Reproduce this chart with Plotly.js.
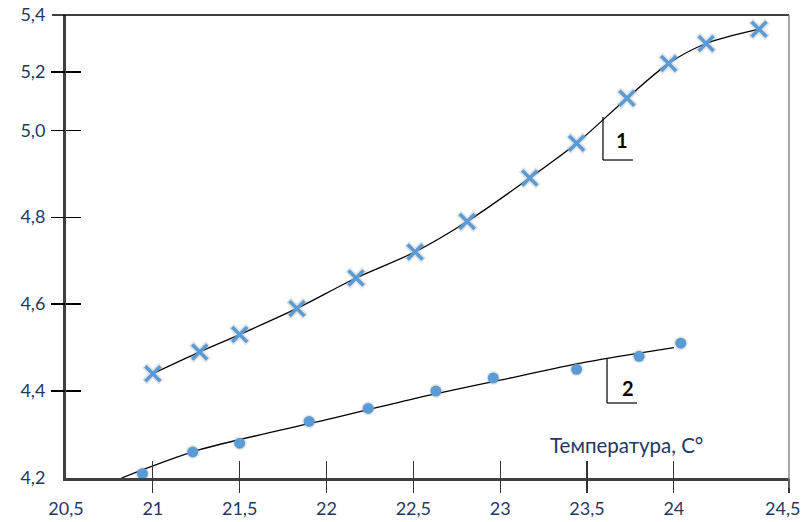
<!DOCTYPE html>
<html>
<head>
<meta charset="utf-8">
<script src="https://cdn.plot.ly/plotly-3.0.1.min.js"></script>
<style>html,body{margin:0;padding:0;background:#fff;}#chart{width:804px;height:522px;}</style>
</head>
<body>
<div id="chart"></div>
<script>
// ---- data ----
const series1X = [21.00, 21.27, 21.50, 21.83, 22.17, 22.51, 22.81, 23.17, 23.44, 23.73, 23.97, 24.14, 24.37];
const series1Y = [4.44, 4.49, 4.53, 4.59, 4.66, 4.72, 4.79, 4.89, 4.97, 5.11, 5.23, 5.30, 5.35];
const series2X = [20.94, 21.23, 21.50, 21.90, 22.24, 22.63, 22.96, 23.44, 23.80, 24.03];
const series2Y = [4.21, 4.26, 4.28, 4.33, 4.36, 4.40, 4.43, 4.45, 4.48, 4.51];
const trend2X = [20.82, 21.27, 22.00, 22.50, 23.00, 23.50, 24.00];
const trend2Y = [4.20, 4.265, 4.334, 4.382, 4.425, 4.467, 4.50];
const xTickLabels = [20.5, 21, 21.5, 22, 22.5, 23, 23.5, 24, 24.5];
const yTickLabels = [4.2, 4.4, 4.6, 4.8, 5.0, 5.2, 5.4];
const xTitle = 'Температура, С°';
const curveLabels = ['1', '2'];

// ---- axis scale of the original (uneven spacing of the last ticks) ----
const xScalePos = [20.5, 21, 21.5, 22, 22.5, 23, 23.5, 24, 24.663];
const yScalePos = [4.2, 4.4, 4.6, 4.8, 5.0, 5.134, 5.265];
function piece(v, from, to) {
  for (let i = 0; i < from.length - 1; i++) {
    if (v <= from[i + 1] || i === from.length - 2) {
      const t = (v - from[i]) / (from[i + 1] - from[i]);
      return to[i] + t * (to[i + 1] - to[i]);
    }
  }
}
const mx = a => a.map(v => piece(v, xTickLabels, xScalePos));
const my = a => a.map(v => piece(v, yTickLabels, yScalePos));
const fmtX = v => (Number.isInteger(v) ? String(v) : v.toFixed(1)).replace('.', ',');
const fmtY = v => v.toFixed(1).replace('.', ',');
const xText = xTickLabels.map(fmtX);
const lastXText = xText[xText.length - 1];
xText[xText.length - 1] = ''; // drawn as an annotation so that it stays inside the page

const blue = '#5b9bd5';
const navy = '#1f3864';
const glow = 'rgba(130,130,130,0.22)';
const traces = [
  {x: mx(series1X), y: my(series1Y), mode: 'lines', line: {color: '#000', width: 1.3, shape: 'spline', smoothing: 0.8}},
  {x: mx(trend2X), y: my(trend2Y), mode: 'lines', line: {color: '#000', width: 1.3, shape: 'spline', smoothing: 0.8}},
  {x: mx(series1X), y: my(series1Y), mode: 'markers', marker: {symbol: 'x-thin-open', size: 17, color: glow, line: {width: 7, color: glow}}},
  {x: mx(series1X), y: my(series1Y), mode: 'markers', marker: {symbol: 'x-thin-open', size: 15, color: blue, line: {width: 3.5, color: blue}}},
  {x: mx(series2X), y: my(series2Y), mode: 'markers', marker: {symbol: 'circle', size: 14, color: 'rgba(140,140,140,0.2)', line: {width: 0}}},
  {x: mx(series2X), y: my(series2Y), mode: 'markers', marker: {symbol: 'circle', size: 11, color: blue, line: {width: 0}}}
];

const xr = [xScalePos[0], xScalePos[xScalePos.length - 1]];
const yr = [yScalePos[0], yScalePos[yScalePos.length - 1]];
const tickFont = {family: 'Lato, "Open Sans", sans-serif', size: 18, color: navy};
const base = {showgrid: false, zeroline: false, tickmode: 'array'};

const layout = {
  width: 804, height: 522,
  margin: {l: 66, r: 15, t: 15, b: 44, pad: 0},
  showlegend: false,
  paper_bgcolor: '#fff', plot_bgcolor: '#fff',
  xaxis: Object.assign({}, base, {range: xr, showline: true, linecolor: '#404040', linewidth: 3,
    tickvals: xScalePos, ticktext: xText,
    ticks: 'outside', ticklen: 12, tickwidth: 1, tickcolor: 'rgba(0,0,0,0)', tickfont: tickFont}),
  xaxis2: Object.assign({}, base, {range: xr, overlaying: 'x', anchor: 'y', side: 'bottom', showline: false,
    tickvals: xScalePos.slice(1, -1), showticklabels: false, ticks: 'inside', ticklen: 17, tickwidth: 1.3, tickcolor: '#333'}),
  xaxis3: Object.assign({}, base, {range: xr, overlaying: 'x', anchor: 'y', side: 'bottom', showline: false,
    tickvals: xScalePos.slice(1), showticklabels: false, ticks: 'outside', ticklen: 14, tickwidth: 1.3, tickcolor: '#333'}),
  yaxis: Object.assign({}, base, {range: yr, showline: true, linecolor: '#404040', linewidth: 3,
    tickvals: yScalePos, ticktext: yTickLabels.map(fmtY),
    ticks: 'outside', ticklen: 14, tickwidth: 1, tickcolor: 'rgba(0,0,0,0)', tickfont: tickFont}),
  yaxis2: Object.assign({}, base, {range: yr, overlaying: 'y', anchor: 'x', side: 'left', showline: false,
    tickvals: yScalePos.slice(1, -1), showticklabels: false, ticks: 'inside', ticklen: 15, tickwidth: 1.3, tickcolor: '#000'}),
  yaxis3: Object.assign({}, base, {range: yr, overlaying: 'y', anchor: 'x', side: 'left', showline: false,
    tickvals: yScalePos.slice(1, -1), showticklabels: false, ticks: 'outside', ticklen: 14, tickwidth: 1.3, tickcolor: '#000'}),
  shapes: [
    {type: 'line', xref: 'paper', yref: 'paper', x0: -0.0194, x1: 1, y0: 1, y1: 1, line: {color: '#000', width: 1.3}},
    {type: 'line', xref: 'paper', yref: 'paper', x0: 1, x1: 1, y0: -0.0216, y1: 1, line: {color: '#777', width: 1.3}},
    {type: 'line', xref: 'paper', yref: 'paper', x0: 0.7427, x1: 0.7427, y0: 0.7797, y1: 0.6868, line: {color: '#000', width: 1.2}},
    {type: 'line', xref: 'paper', yref: 'paper', x0: 0.7427, x1: 0.7842, y0: 0.6868, y1: 0.6868, line: {color: '#000', width: 1.2}},
    {type: 'line', xref: 'paper', yref: 'paper', x0: 0.7483, x1: 0.7483, y0: 0.2570, y1: 0.1620, line: {color: '#000', width: 1.2}},
    {type: 'line', xref: 'paper', yref: 'paper', x0: 0.7483, x1: 0.7898, y0: 0.1620, y1: 0.1620, line: {color: '#000', width: 1.2}}
  ],
  annotations: [
    {xref: 'paper', yref: 'paper', x: 0.7690, y: 0.7300, xanchor: 'center', yanchor: 'middle', text: '<b>' + curveLabels[0] + '</b>', showarrow: false, font: {family: 'Lato, sans-serif', size: 20, color: '#000'}},
    {xref: 'paper', yref: 'paper', x: 0.7773, y: 0.1944, xanchor: 'center', yanchor: 'middle', text: '<b>' + curveLabels[1] + '</b>', showarrow: false, font: {family: 'Lato, sans-serif', size: 20, color: '#000'}},
    {xref: 'paper', yref: 'paper', x: 0.7749, y: 0.0713, xanchor: 'center', yanchor: 'middle', text: xTitle, showarrow: false, font: {family: 'Lato, "Open Sans", sans-serif', size: 20.5, color: navy}},
    {xref: 'paper', yref: 'paper', x: 1.0180, y: -0.0648, xanchor: 'right', yanchor: 'middle', text: lastXText, showarrow: false, font: tickFont}
  ]
};
traces.forEach(t => { t.xaxis = 'x'; t.yaxis = 'y'; t.hoverinfo = 'skip'; });
// dummy traces so the overlay tick axes are drawn
traces.push({x: xr, y: yr, xaxis: 'x2', yaxis: 'y2', mode: 'markers', marker: {opacity: 0}, hoverinfo: 'skip'});
traces.push({x: xr, y: yr, xaxis: 'x3', yaxis: 'y3', mode: 'markers', marker: {opacity: 0}, hoverinfo: 'skip'});
Plotly.newPlot('chart', traces, layout, {displayModeBar: false, staticPlot: true});
</script>
</body>
</html>
